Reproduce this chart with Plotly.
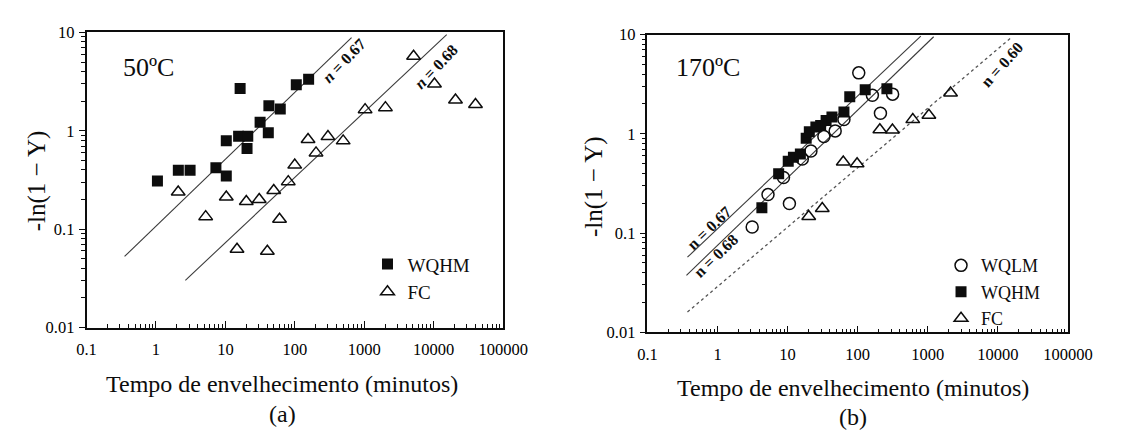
import plotly.graph_objects as go

# ---------------- data ----------------
# Panel (a) 50 ºC
a_wqhm_x = [1.05, 2.1, 3.1, 7.3, 10.3, 10.3, 16.3, 15.5, 21, 20.5, 31.6, 42.3, 41.5, 61.7, 105, 158]
a_wqhm_y = [0.308, 0.398, 0.398, 0.42, 0.347, 0.79, 2.69, 0.88, 0.88, 0.66, 1.22, 1.80, 0.955, 1.67, 2.94, 3.35]

a_fc_x = [2.09, 5.2, 10.3, 14.7, 20, 30.7, 40.2, 49.7, 60.2, 80.4, 99.7, 155, 202, 300, 497,
          1028, 2017, 5130, 10260, 20600, 40000]
a_fc_y = [0.239, 0.134, 0.212, 0.0624, 0.191, 0.20, 0.0596, 0.247, 0.126, 0.304, 0.448, 0.815,
          0.596, 0.873, 0.79, 1.64, 1.72, 5.73, 2.99, 2.06, 1.85]

a_fit067_x = [0.353, 656]
a_fit067_y = [0.0528, 8.84]
a_fit068_x = [2.65, 15400]
a_fit068_y = [0.0302, 9.5]

# Panel (b) 170 ºC
b_wqlm_x = [3.12, 5.25, 8.73, 10.6, 16.2, 21.5, 32.9, 47.7, 63.6, 103.5, 162, 211, 315]
b_wqlm_y = [0.115, 0.244, 0.363, 0.198, 0.557, 0.671, 0.938, 1.07, 1.39, 4.11, 2.45, 1.61, 2.51]

b_wqhm_x = [4.29, 7.45, 10.2, 12.1, 15.2, 18.4, 20.4, 25.3, 29.6, 35.4, 42.9, 63.6, 77, 128, 261]
b_wqhm_y = [0.18, 0.395, 0.53, 0.58, 0.624, 0.90, 1.05, 1.17, 1.21, 1.36, 1.48, 1.66, 2.36, 2.78, 2.84]

b_fc_x = [20, 31.2, 62.2, 98, 207, 313, 611, 1037, 2113]
b_fc_y = [0.147, 0.177, 0.519, 0.499, 1.10, 1.09, 1.39, 1.54, 2.58]

b_fit067_x = [0.372, 795]
b_fit067_y = [0.0571, 9.66]
b_fit068_x = [0.36, 1213]
b_fit068_y = [0.0375, 9.5]
b_fit060_x = [0.372, 16000]
b_fit060_y = [0.016, 9.5]

x_tick_vals = [0.1, 1, 10, 100, 1000, 10000, 100000]
x_tick_text = ["0.1", "1", "10", "100", "1000", "10000", "100000"]
y_tick_vals = [0.01, 0.1, 1, 10]
y_tick_text = ["0.01", "0.1", "1", "10"]
x_minor = [m * 10.0 ** e for e in range(-1, 5) for m in range(2, 10)]
y_minor = [m * 10.0 ** e for e in range(-2, 1) for m in range(2, 10)]

x_title = "Tempo de envelhecimento (minutos)"
y_title = "-ln(1 \u2212 Y)"

# ---------------- figure ----------------
W, H = 1122, 437
FONT = "Liberation Serif"
INK = "#0d0d0d"
LINE = "#3a3a3a"


def px(v):
    return v / W


def py(v):
    return 1 - v / H


fig = go.Figure()

sq = dict(symbol="square", size=11, color=INK, line=dict(width=0))
tri = dict(symbol="triangle-up-open", size=12, color=INK, line=dict(width=1.5, color=INK))
circ = dict(symbol="circle-open", size=12, color=INK, line=dict(width=1.5, color=INK))

# panel a
for fx, fy in [(a_fit067_x, a_fit067_y), (a_fit068_x, a_fit068_y)]:
    fig.add_trace(go.Scatter(x=fx, y=fy, mode="lines", line=dict(color=LINE, width=1.1),
                             showlegend=False, xaxis="x", yaxis="y", hoverinfo="skip"))
fig.add_trace(go.Scatter(x=a_wqhm_x, y=a_wqhm_y, mode="markers", marker=sq, name="WQHM",
                         xaxis="x", yaxis="y", legend="legend"))
fig.add_trace(go.Scatter(x=a_fc_x, y=a_fc_y, mode="markers", marker=tri, name="FC",
                         xaxis="x", yaxis="y", legend="legend"))

# panel b
for fx, fy in [(b_fit067_x, b_fit067_y), (b_fit068_x, b_fit068_y)]:
    fig.add_trace(go.Scatter(x=fx, y=fy, mode="lines", line=dict(color=LINE, width=1.1),
                             showlegend=False, xaxis="x2", yaxis="y2", hoverinfo="skip"))
fig.add_trace(go.Scatter(x=b_fit060_x, y=b_fit060_y, mode="lines",
                         line=dict(color="#555", width=1.3, dash="dot"),
                         showlegend=False, xaxis="x2", yaxis="y2", hoverinfo="skip"))
fig.add_trace(go.Scatter(x=b_wqlm_x, y=b_wqlm_y, mode="markers", marker=circ, name="WQLM",
                         xaxis="x2", yaxis="y2", legend="legend2"))
fig.add_trace(go.Scatter(x=b_wqhm_x, y=b_wqhm_y, mode="markers", marker=sq, name="WQHM",
                         xaxis="x2", yaxis="y2", legend="legend2"))
fig.add_trace(go.Scatter(x=b_fc_x, y=b_fc_y, mode="markers", marker=tri, name="FC",
                         xaxis="x2", yaxis="y2", legend="legend2"))

tickfont = dict(family=FONT, size=16.5, color="#000000")


def xaxis(domain, anchor):
    return dict(domain=domain, anchor=anchor, type="log", range=[-1, 5],
                showgrid=False, zeroline=False, showline=True, linecolor=INK, linewidth=1.5,
                mirror=True, ticks="inside", ticklen=7, tickwidth=1.2, tickcolor=INK,
                tickmode="array", tickvals=x_tick_vals, ticktext=x_tick_text,
                tickfont=tickfont, ticklabelstandoff=6,
                minor=dict(tickmode="array", tickvals=x_minor, ticks="inside", ticklen=4,
                           tickwidth=1, tickcolor=INK, showgrid=False))


def yaxis(domain, anchor):
    return dict(domain=domain, anchor=anchor, type="log", range=[-2, 1],
                showgrid=False, zeroline=False, showline=True, linecolor=INK, linewidth=1.5,
                mirror=True, ticks="outside", ticklen=6, tickwidth=1.2, tickcolor=INK,
                tickmode="array", tickvals=y_tick_vals, ticktext=y_tick_text,
                tickfont=tickfont, ticklabelstandoff=1,
                minor=dict(tickmode="array", tickvals=y_minor, ticks="outside", ticklen=4,
                           tickwidth=1, tickcolor=INK, showgrid=False))


fig.update_layout(
    width=W, height=H, margin=dict(l=0, r=0, t=0, b=0),
    paper_bgcolor="white", plot_bgcolor="white",
    xaxis=xaxis([px(79), px(509)], "y"),
    yaxis=yaxis([py(333), py(24.5)], "x"),
    xaxis2=xaxis([px(658), px(1092)], "y2"),
    yaxis2=yaxis([py(338), py(26.7)], "x2"),
    legend=dict(x=px(369), y=py(247), xanchor="left", yanchor="top",
                font=dict(family=FONT, size=19, color=INK),
                bgcolor="rgba(0,0,0,0)", borderwidth=0, tracegroupgap=0),
    legend2=dict(x=px(961), y=py(249), xanchor="left", yanchor="top",
                 font=dict(family=FONT, size=18, color=INK),
                 bgcolor="rgba(0,0,0,0)", borderwidth=0, tracegroupgap=0),
)

ann = []


def text(x, y, s, size, angle=0):
    ann.append(dict(x=px(x), y=py(y), xref="paper", yref="paper", text=s, showarrow=False,
                    xanchor="center", yanchor="middle", textangle=angle,
                    font=dict(family=FONT, size=size, color=INK)))


text(142.5, 61, "50ºC", 26)
text(720.5, 61, "170ºC", 26)
text(345, 54, "<b><i>n</i> = 0.67</b>", 16, -46)
text(440, 60, "<b><i>n</i> = 0.68</b>", 16, -46)
text(721, 229, "<b>n = 0.67</b>", 16, -44)
text(729, 258, "<b>n = 0.68</b>", 16, -44)
text(1024, 58, "<b>n = 0.60</b>", 16, -48)
text(28, 180, y_title, 25, -90)
text(603, 186, y_title, 25, -90)
text(281, 392, x_title, 24)
text(870, 396, x_title, 24)
text(281, 423, "(a)", 24)
text(870, 427, "(b)", 24)
fig.update_layout(annotations=ann)

fig.write_html("out.html", config={"displayModeBar": False},
               post_script="document.body.style.margin='0px';"
               "document.body.style.overflow='hidden';")
